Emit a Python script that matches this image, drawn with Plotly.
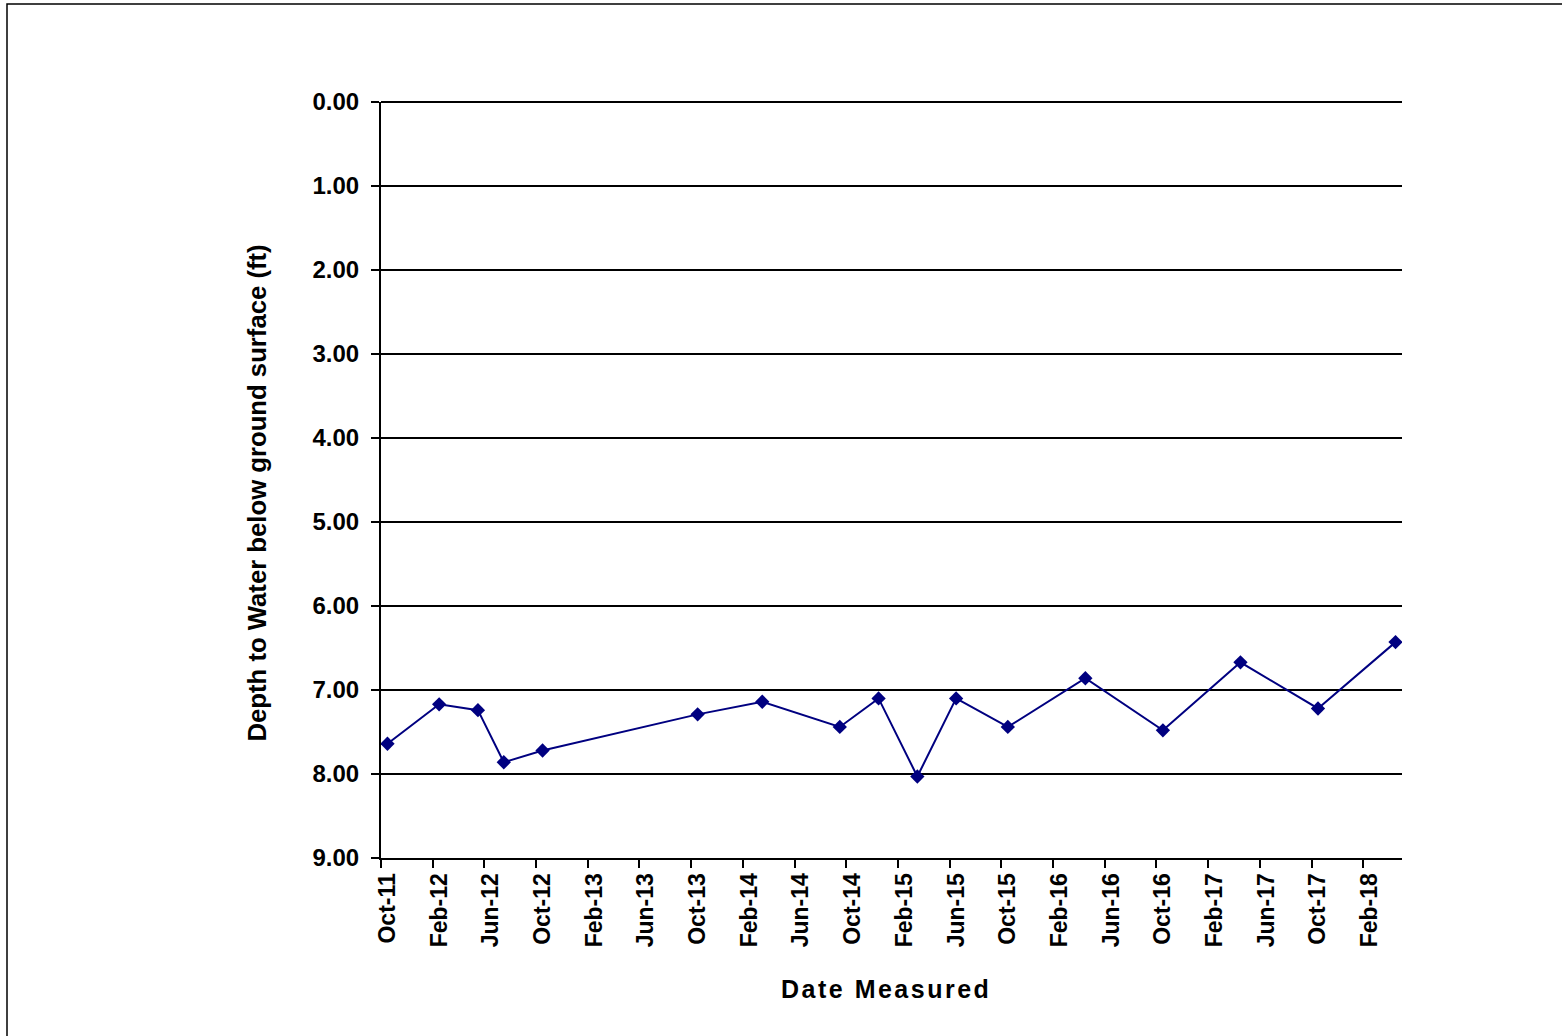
import plotly.graph_objects as go

# Monitoring-well readings: month measured and depth to water (ft)
dates = ["2011-10", "2012-02", "2012-05", "2012-07", "2012-10", "2013-10",
         "2014-03", "2014-09", "2014-12", "2015-03", "2015-06", "2015-10",
         "2016-04", "2016-10", "2017-04", "2017-10", "2018-04"]
depth_ft = [7.64, 7.17, 7.24, 7.86, 7.72, 7.29,
            7.14, 7.44, 7.10, 8.03, 7.10, 7.44,
            6.86, 7.48, 6.67, 7.22, 6.43]

tick_labels = ["Oct-11", "Feb-12", "Jun-12", "Oct-12", "Feb-13", "Jun-13",
               "Oct-13", "Feb-14", "Jun-14", "Oct-14", "Feb-15", "Jun-15",
               "Oct-15", "Feb-16", "Jun-16", "Oct-16", "Feb-17", "Jun-17",
               "Oct-17", "Feb-18"]
y_ticks = [0, 1, 2, 3, 4, 5, 6, 7, 8, 9]

START_YEAR, START_MONTH = 2011, 10
N_MONTHS = 79  # Oct 2011 through Apr 2018


def month_index(ym):
    y, m = (int(v) for v in ym.split("-"))
    return (y - START_YEAR) * 12 + (m - START_MONTH)


# each reading sits in the middle of its month slot
x_vals = [month_index(d) + 0.5 for d in dates]
label_pos = [4 * i + 0.5 for i in range(len(tick_labels))]
tick_marks = [4 * i for i in range(len(tick_labels))]

FONT = "Liberation Sans, Arial, sans-serif"
NAVY = "#000080"

fig = go.Figure()
fig.add_trace(go.Scatter(
    x=x_vals, y=depth_ft, mode="lines+markers",
    line=dict(color=NAVY, width=2),
    marker=dict(symbol="diamond", size=11, color=NAVY),
    showlegend=False, hoverinfo="x+y",
))

fig.update_layout(
    width=1562, height=1036,
    margin=dict(l=381, r=160, t=102, b=178, autoexpand=False),
    paper_bgcolor="white", plot_bgcolor="white",
    font=dict(family=FONT, color="black", weight="bold"),
    xaxis=dict(
        range=[0, N_MONTHS],
        tickmode="array", tickvals=label_pos, ticktext=tick_labels,
        tickangle=-90, ticks="", ticklabelstandoff=4,
        tickfont=dict(size=23, family=FONT, weight="bold"),
        minor=dict(tickmode="array", tickvals=tick_marks, ticks="outside",
                   ticklen=8, tickwidth=2, tickcolor="black", showgrid=False),
        showgrid=False, zeroline=False,
        showline=True, linecolor="black", linewidth=2,
    ),
    yaxis=dict(
        range=[9, 0], tickmode="array", tickvals=y_ticks, tickformat=".2f",
        ticks="outside", ticklen=8, tickwidth=2, tickcolor="black",
        ticklabelstandoff=7,
        tickfont=dict(size=24, family=FONT, weight="bold"),
        showgrid=True, gridcolor="black", gridwidth=2,
        zeroline=True, zerolinecolor="black", zerolinewidth=2,
        showline=True, linecolor="black", linewidth=2,
    ),
    annotations=[
        dict(text='<span style="letter-spacing:2.5px">Date Measured</span>',
             xref="paper", yref="paper", x=(886 - 381) / 1021, y=(858 - 989) / 756,
             xanchor="center", yanchor="middle", showarrow=False,
             font=dict(size=25, family=FONT, weight="bold")),
        dict(text="Depth to Water below ground surface (ft)",
             xref="paper", yref="paper", x=(257 - 381) / 1021, y=(858 - 493.5) / 756,
             xanchor="center", yanchor="middle", textangle=-90, showarrow=False,
             font=dict(size=25.7, family=FONT, weight="bold")),
    ],
    shapes=[dict(type="rect", xref="paper", yref="paper",
                 x0=(7 - 381) / 1021, x1=(1575 - 381) / 1021,
                 y0=(858 - 1050) / 756, y1=(858 - 4) / 756,
                 line=dict(color="black", width=1.5), fillcolor="rgba(0,0,0,0)")],
)

fig.write_html("out.html")
